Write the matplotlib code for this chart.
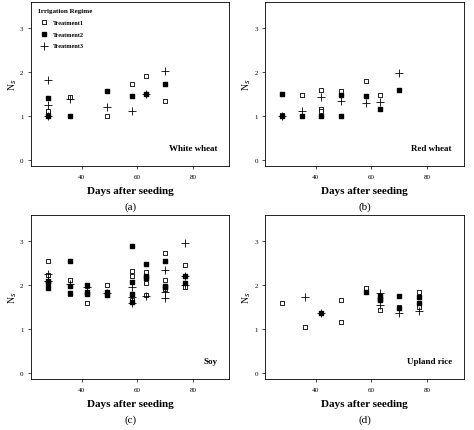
import matplotlib
matplotlib.use('Agg')
import matplotlib.pyplot as plt

plt.rcParams['font.family'] = 'Liberation Serif'

# Data per panel: treatment -> (days, Ns)
WW_T1 = ([28, 28, 28, 36, 49, 58, 63, 70], [1.0, 1.05, 1.12, 1.42, 1.0, 1.72, 1.9, 1.35])
WW_T2 = ([28, 28, 36, 49, 58, 63, 70], [1.0, 1.4, 1.0, 1.57, 1.45, 1.5, 1.73])
WW_T3 = ([28, 28, 28, 36, 49, 58, 63, 70], [1.82, 1.25, 1.0, 1.38, 1.2, 1.1, 1.5, 2.03])

RW_T1 = ([28, 28, 35, 42, 42, 42, 49, 58, 63, 70], [1.03, 1.0, 1.47, 1.58, 1.15, 1.12, 1.57, 1.8, 1.47, 1.58])
RW_T2 = ([28, 28, 35, 42, 49, 49, 58, 63, 70], [1.5, 1.0, 1.0, 1.0, 1.47, 1.0, 1.45, 1.15, 1.58])
RW_T3 = ([28, 35, 42, 49, 58, 63, 70], [1.0, 1.12, 1.42, 1.35, 1.3, 1.32, 1.97])

SOY_T1 = ([28, 28, 36, 36, 42, 42, 49, 58, 58, 58, 63, 63, 63, 70, 70, 70, 77, 77],
          [2.55, 2.22, 2.12, 1.8, 1.6, 1.98, 2.0, 2.32, 2.2, 1.65, 2.3, 2.05, 1.78, 2.72, 2.12, 1.9, 2.45, 1.95])
SOY_T2 = ([28, 28, 28, 36, 36, 36, 42, 42, 42, 49, 49, 58, 58, 58, 58, 63, 63, 63, 70, 70, 70, 77, 77],
          [2.1, 2.05, 1.93, 2.55, 1.98, 1.82, 2.0, 1.85, 1.8, 1.85, 1.78, 2.88, 2.07, 1.8, 1.62,
           2.47, 2.2, 2.15, 2.55, 1.95, 1.98, 2.2, 2.05])
SOY_T3 = ([28, 28, 36, 42, 49, 58, 58, 58, 63, 70, 70, 70, 77, 77, 77],
          [2.25, 2.1, 2.03, 1.95, 1.82, 1.95, 1.72, 1.6, 1.75, 2.35, 1.85, 1.7, 2.95, 2.2, 2.0])

UR_T1 = ([28, 36, 49, 49, 58, 63, 70, 77, 77], [1.58, 1.05, 1.66, 1.15, 1.92, 1.44, 1.5, 1.83, 1.5])
UR_T2 = ([42, 58, 63, 63, 63, 70, 70, 77, 77], [1.35, 1.83, 1.75, 1.68, 1.65, 1.75, 1.48, 1.72, 1.6])
UR_T3 = ([36, 42, 63, 63, 70, 77], [1.73, 1.35, 1.82, 1.55, 1.35, 1.4])

PANELS = [
    ('White wheat', '(a)', WW_T1, WW_T2, WW_T3),
    ('Red wheat', '(b)', RW_T1, RW_T2, RW_T3),
    ('Soy', '(c)', SOY_T1, SOY_T2, SOY_T3),
    ('Upland rice', '(d)', UR_T1, UR_T2, UR_T3),
]

fig = plt.figure(figsize=(4.74, 4.31), dpi=100)
pos = [(0.066, 0.612), (0.56, 0.612), (0.066, 0.118), (0.56, 0.118)]
for (name, tag, t1, t2, t3), (l, b) in zip(PANELS, pos):
    ax = fig.add_axes([l, b, 0.418, 0.381])
    ax.scatter(*t1, marker='s', facecolors='white', edgecolors='black', s=10, linewidths=0.6,
               label='Treatment1', zorder=3)
    ax.scatter(*t2, marker='s', color='black', s=10, label='Treatment2', zorder=3)
    ax.scatter(*t3, marker='+', color='black', s=30, linewidths=0.6, label='Treatment3', zorder=3)
    ax.set_xlim(22, 93)
    ax.set_ylim(-0.15, 3.6)
    ax.set_xticks([40, 60, 80])
    ax.set_yticks([0, 1, 2, 3])
    ax.tick_params(labelsize=5, length=2, width=0.5)
    for s in ax.spines.values():
        s.set_linewidth(0.6)
    ax.set_ylabel('N$_s$', fontsize=7, labelpad=1)
    ax.set_xlabel('Days after seeding', fontsize=8, fontweight='bold', labelpad=5)
    ax.text(0.94, 0.1, name, transform=ax.transAxes, ha='right', fontsize=6.5, fontweight='bold')
    ax.text(0.5, -0.245, tag, transform=ax.transAxes, ha='center', va='center', fontsize=8)
    if tag == '(a)':
        ax.legend(loc='upper left', fontsize=4.5, frameon=False, title='Irrigation Regime',
                  title_fontproperties={'size': 5, 'weight': 'bold'},
                  prop={'weight': 'bold', 'size': 4.5}, alignment='left', handletextpad=0.5,
                  borderaxespad=0.6, labelspacing=1.0)

fig.savefig('out.png', dpi=100)
